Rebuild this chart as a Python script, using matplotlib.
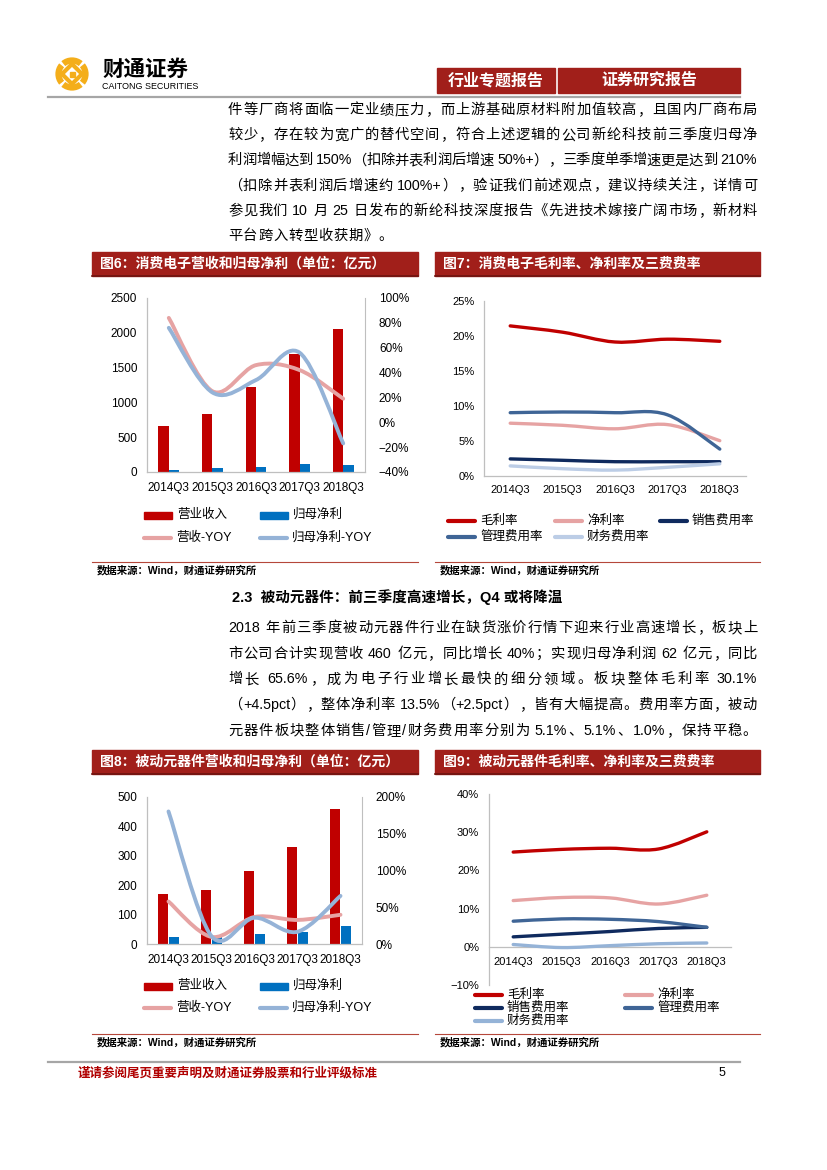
import re
import numpy as np
import matplotlib
matplotlib.use('Agg')
import matplotlib.pyplot as plt
from matplotlib.path import Path
from matplotlib.patches import PathPatch, Rectangle, Arc, Polygon
from matplotlib.ticker import PercentFormatter

plt.rcParams['font.family'] = ['Liberation Sans', 'Noto Sans CJK SC', 'DejaVu Sans']

W, H = 827, 1170

quarters = ['2014Q3', '2015Q3', '2016Q3', '2017Q3', '2018Q3']

# 图6 消费电子 (亿元 / 同比)
ce_revenue = [666, 833, 1221, 1695, 2055]
ce_profit = [34, 57, 67, 110, 96]
ce_rev_yoy = [0.84, 0.25, 0.46, 0.42, 0.19]
ce_profit_yoy = [0.76, 0.24, 0.34, 0.56, -0.17]

# 图7 消费电子 费率
ce_gross = [0.214, 0.205, 0.191, 0.195, 0.192]
ce_net = [0.075, 0.072, 0.067, 0.073, 0.050]
ce_sell = [0.024, 0.022, 0.020, 0.020, 0.020]
ce_admin = [0.090, 0.091, 0.090, 0.087, 0.038]
ce_fin = [0.014, 0.010, 0.008, 0.012, 0.017]

# 图8 被动元器件 (亿元 / 同比)
pc_revenue = [170, 185, 250, 328, 460]
pc_profit = [24, 26, 34, 40, 62]
pc_rev_yoy = [0.58, 0.10, 0.37, 0.33, 0.40]
pc_profit_yoy = [1.80, 0.11, 0.36, 0.17, 0.656]

# 图9 被动元器件 费率
pc_gross = [0.248, 0.255, 0.258, 0.256, 0.301]
pc_net = [0.121, 0.129, 0.128, 0.112, 0.135]
pc_sell = [0.026, 0.033, 0.040, 0.048, 0.051]
pc_admin = [0.067, 0.073, 0.072, 0.066, 0.051]
pc_fin = [0.006, -0.002, 0.003, 0.008, 0.010]

para1 = [
    "件等厂商将面临一定业绩压力，而上游基础原材料附加值较高，且国内厂商布局",
    "较少，存在较为宽广的替代空间，符合上述逻辑的公司新纶科技前三季度归母净",
    "利润增幅达到 150%（扣除并表利润后增速 50%+），三季度单季增速更是达到 210%",
    "（扣除并表利润后增速约 100%+），验证我们前述观点，建议持续关注，详情可",
    "参见我们 10 月 25 日发布的新纶科技深度报告《先进技术嫁接广阔市场，新材料",
    "平台跨入转型收获期》。",
]
para2 = [
    "2018 年前三季度被动元器件行业在缺货涨价行情下迎来行业高速增长，板块上",
    "市公司合计实现营收 460 亿元，同比增长 40%；实现归母净利润 62 亿元，同比",
    "增长 65.6%，成为电子行业增长最快的细分领域。板块整体毛利率 30.1%",
    "（+4.5pct），整体净利率 13.5%（+2.5pct），皆有大幅提高。费用率方面，被动",
    "元器件板块整体销售/管理/财务费用率分别为 5.1%、5.1%、1.0%，保持平稳。",
]

RED_BAR = '#C00000'
BLUE_BAR = '#0070C0'
PINK = '#E6A3A3'
LBLUE = '#95B3D7'
NAVY = '#0F2A5E'
MBLUE = '#3F6596'
PALE = '#BCCDE6'
HEAD = '#A11F1A'
AXC = '#BFBFBF'
GOLD = '#F4AE1A'

fig = plt.figure(figsize=(W / 100, H / 100), dpi=100)
pg = fig.add_axes([0, 0, 1, 1])
pg.set_xlim(0, W)
pg.set_ylim(H, 0)
pg.axis('off')
renderer = fig.canvas.get_renderer()


def box(x0, y0, x1, y1):
    return [x0 / W, 1 - y1 / H, (x1 - x0) / W, (y1 - y0) / H]


def put_line(y, line, x0, x1, fs, justify=True):
    # spread the characters over the column width like the justified text
    toks = re.findall(r'[\x21-\x7e]+| |[^\x21-\x7e ]', line)
    objs, widths = [], []
    for t in toks:
        if t == ' ':
            objs.append(None)
            widths.append(fs * 100 / 72 * 0.25)
        else:
            o = pg.text(0, y, t, fontsize=fs, va='center', ha='left')
            objs.append(o)
            widths.append(o.get_window_extent(renderer).width)
    gap = (x1 - x0 - sum(widths)) / (len(toks) - 1) if justify else 0.8
    xpos = x0
    for o, w in zip(objs, widths):
        if o is not None:
            o.set_x(xpos)
        xpos += w + gap


def smooth_line(ax, ys, color, lw):
    # excel style smoothed line through the data points
    ys = np.asarray(ys, dtype=float)
    pts = np.column_stack([np.arange(len(ys), dtype=float), ys])
    ext = np.vstack([pts[0], pts, pts[-1]])
    verts = [pts[0]]
    codes = [Path.MOVETO]
    for i in range(len(pts) - 1):
        p0, p1, p2, p3 = ext[i], ext[i + 1], ext[i + 2], ext[i + 3]
        verts += [p1 + (p2 - p0) / 6, p2 - (p3 - p1) / 6, p2]
        codes += [Path.CURVE4] * 3
    ax.add_patch(PathPatch(Path(verts, codes), fill=False, ec=color, lw=lw,
                           capstyle='round', joinstyle='round', zorder=3))


def style_axes(ax, fs):
    ax.set_facecolor('none')
    for s in ['top', 'right']:
        ax.spines[s].set_visible(False)
    for s in ['left', 'bottom']:
        ax.spines[s].set_color(AXC)
        ax.spines[s].set_linewidth(0.9)
    ax.tick_params(length=0, labelsize=fs, colors='#000000', pad=7)
    ax.set_xlim(-0.5, 4.5)
    ax.set_xticks(range(len(quarters)))
    ax.set_xticklabels(quarters)


def leg_line(x, y, color, label, lw=3):
    pg.plot([x, x + 27], [y, y], color=color, lw=lw, solid_capstyle='round')
    pg.text(x + 32, y, label, va='center', ha='left', fontsize=9)


def leg_rect(x, y, color, label):
    pg.add_patch(Rectangle((x, y - 3.5), 28, 7, color=color))
    pg.text(x + 33, y, label, va='center', ha='left', fontsize=9)


def title_bar(x0, x1, y, text):
    pg.add_patch(Rectangle((x0, y), x1 - x0, 24, color=HEAD))
    pg.plot([x0, x1], [y + 24, y + 24], color='#6E1410', lw=1.2)
    pg.text(x0 + 8, y + 12, text, color='white', fontsize=10, fontweight='bold',
            va='center', ha='left')


def source(x0, x1, y):
    pg.plot([x0, x1], [y, y], color='#B5473A', lw=0.8)
    pg.text(x0 + 5, y + 8, "数据来源：Wind，财通证券研究所", fontsize=7.5,
            fontweight='bold', va='center', ha='left')


# ---------- page header ----------
for t1 in [50, 140, 230, 320]:
    pg.add_patch(Arc((72, 74), 27, 27, theta1=t1, theta2=t1 + 80, color=GOLD, lw=4.5))
pg.add_patch(Polygon([(72, 64), (82, 74), (72, 84), (62, 74)], closed=True,
                     fill=False, ec=GOLD, lw=3))
pg.add_patch(Rectangle((69.5, 71.5), 5, 5, color=GOLD))
pg.text(102, 70, "财通证券", fontsize=15.5, fontweight='bold', va='center', ha='left')
pg.text(102, 86.5, "CAITONG SECURITIES", fontsize=6.4, va='center', ha='left')
pg.add_patch(Rectangle((437, 68), 118, 25, color=HEAD))
pg.add_patch(Rectangle((558, 68), 182, 25, color=HEAD))
pg.text(496, 80.5, "行业专题报告", color='white', fontsize=11.5, fontweight='bold',
        va='center', ha='center')
pg.text(649, 80.5, "证券研究报告", color='white', fontsize=11.5, fontweight='bold',
        va='center', ha='center')
pg.plot([48, 740], [97, 97], color='#A6A6A6', lw=1.6)

for i, line in enumerate(para1):
    put_line(110 + i * 25.2, line, 228, 757, 10.3, justify=i < len(para1) - 1)

pg.text(232, 597, "2.3  被动元器件：前三季度高速增长，Q4 或将降温", fontsize=10.5,
        fontweight='bold', va='center', ha='left')

for i, line in enumerate(para2):
    put_line(628 + i * 25.7, line, 228, 757, 10.3)

# footer
pg.plot([48, 740], [1062, 1062], color='#A6A6A6', lw=1.6)
pg.text(78, 1073, "谨请参阅尾页重要声明及财通证券股票和行业评级标准", color='#B00000',
        fontsize=9, fontweight='bold', va='center', ha='left')
pg.text(722, 1073, "5", fontsize=9, va='center', ha='center')

# ---------- 图6 ----------
title_bar(92, 418, 252, "图6：消费电子营收和归母净利（单位：亿元）")
x = np.arange(len(quarters))
ax6 = fig.add_axes(box(147, 298, 365, 472))
style_axes(ax6, 8.5)
ax6.bar(x - 0.12, ce_revenue, width=0.24, color=RED_BAR)
ax6.bar(x + 0.12, ce_profit, width=0.24, color=BLUE_BAR)
ax6.set_ylim(0, 2500)
ax6.set_yticks(range(0, 2501, 500))
ax6r = ax6.twinx()
ax6r.set_facecolor('none')
for s in ['top', 'left', 'bottom']:
    ax6r.spines[s].set_visible(False)
ax6r.spines['right'].set_color(AXC)
ax6r.set_ylim(-0.4, 1.0)
ax6r.set_yticks(np.arange(-0.4, 1.01, 0.2))
ax6r.yaxis.set_major_formatter(PercentFormatter(1.0, decimals=0))
ax6r.tick_params(length=0, labelsize=8.5, pad=10)
smooth_line(ax6r, ce_rev_yoy, PINK, 2.8)
smooth_line(ax6r, ce_profit_yoy, LBLUE, 2.8)
leg_rect(144, 515, RED_BAR, "营业收入")
leg_rect(260, 515, BLUE_BAR, "归母净利")
leg_line(144, 538, PINK, "营收-YOY")
leg_line(260, 538, LBLUE, "归母净利-YOY")
source(92, 418, 562)

# ---------- 图7 ----------
title_bar(435, 760, 252, "图7：消费电子毛利率、净利率及三费费率")
ax7 = fig.add_axes(box(484, 300.7, 746, 475.7))
style_axes(ax7, 8)
ax7.set_ylim(0, 0.25)
ax7.set_yticks(np.arange(0, 0.251, 0.05))
ax7.yaxis.set_major_formatter(PercentFormatter(1.0, decimals=0))
smooth_line(ax7, ce_gross, RED_BAR, 2.4)
smooth_line(ax7, ce_net, PINK, 2.4)
smooth_line(ax7, ce_sell, NAVY, 2.4)
smooth_line(ax7, ce_admin, MBLUE, 2.4)
smooth_line(ax7, ce_fin, PALE, 2.4)
leg_line(448, 521, RED_BAR, "毛利率")
leg_line(555, 521, PINK, "净利率")
leg_line(660, 521, NAVY, "销售费用率")
leg_line(448, 537, MBLUE, "管理费用率")
leg_line(555, 537, PALE, "财务费用率")
source(435, 760, 562)

# ---------- 图8 ----------
title_bar(92, 418, 750, "图8：被动元器件营收和归母净利（单位：亿元）")
ax8 = fig.add_axes(box(147, 796.7, 362, 944.3))
style_axes(ax8, 8.5)
ax8.bar(x - 0.12, pc_revenue, width=0.23, color=RED_BAR)
ax8.bar(x + 0.12, pc_profit, width=0.23, color=BLUE_BAR)
ax8.set_ylim(0, 500)
ax8.set_yticks(range(0, 501, 100))
ax8r = ax8.twinx()
ax8r.set_facecolor('none')
for s in ['top', 'left', 'bottom']:
    ax8r.spines[s].set_visible(False)
ax8r.spines['right'].set_color(AXC)
ax8r.set_ylim(0, 2.0)
ax8r.set_yticks(np.arange(0, 2.01, 0.5))
ax8r.yaxis.set_major_formatter(PercentFormatter(1.0, decimals=0))
ax8r.tick_params(length=0, labelsize=8.5, pad=10)
smooth_line(ax8r, pc_rev_yoy, PINK, 2.8)
smooth_line(ax8r, pc_profit_yoy, LBLUE, 2.8)
leg_rect(144, 986, RED_BAR, "营业收入")
leg_rect(260, 986, BLUE_BAR, "归母净利")
leg_line(144, 1008, PINK, "营收-YOY")
leg_line(260, 1008, LBLUE, "归母净利-YOY")
source(92, 418, 1034)

# ---------- 图9 ----------
title_bar(435, 760, 750, "图9：被动元器件毛利率、净利率及三费费率")
ax9 = fig.add_axes(box(489, 794, 731, 985))
style_axes(ax9, 8)
ax9.spines['bottom'].set_position(('data', 0))
ax9.set_ylim(-0.1, 0.4)
ax9.set_yticks(np.arange(-0.1, 0.401, 0.1))
ax9.yaxis.set_major_formatter(PercentFormatter(1.0, decimals=0))
smooth_line(ax9, pc_gross, RED_BAR, 2.4)
smooth_line(ax9, pc_net, PINK, 2.4)
smooth_line(ax9, pc_sell, NAVY, 2.4)
smooth_line(ax9, pc_admin, MBLUE, 2.4)
smooth_line(ax9, pc_fin, LBLUE, 2.4)
leg_line(475, 995, RED_BAR, "毛利率")
leg_line(625, 995, PINK, "净利率")
leg_line(475, 1008, NAVY, "销售费用率")
leg_line(625, 1008, MBLUE, "管理费用率")
leg_line(475, 1021, LBLUE, "财务费用率")
source(435, 760, 1034)

fig.savefig('out.png', dpi=100)
